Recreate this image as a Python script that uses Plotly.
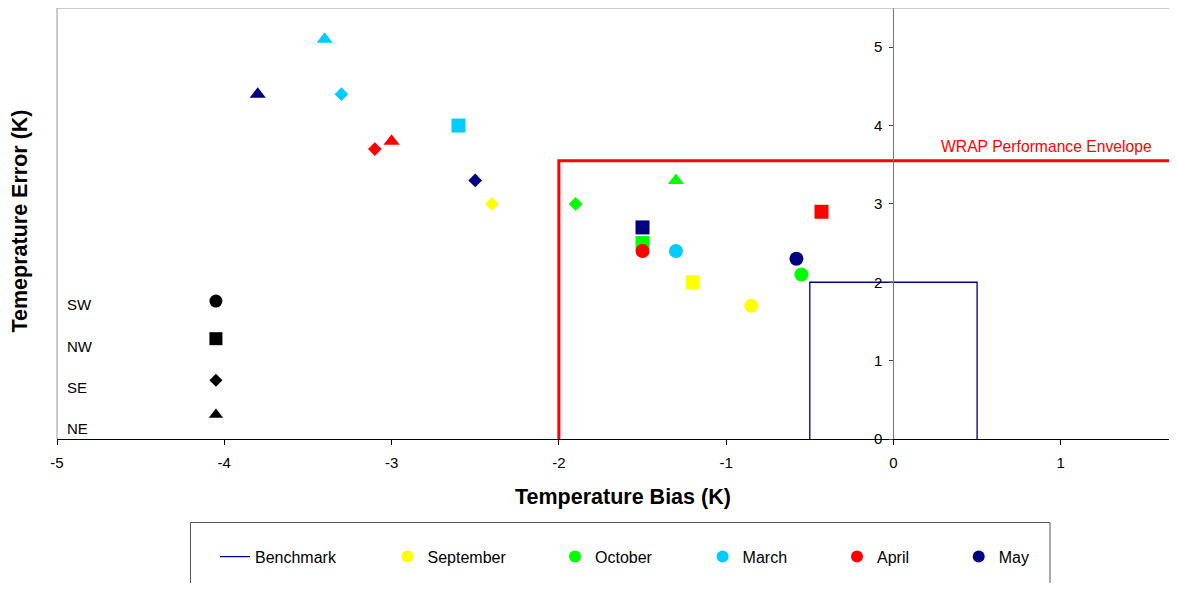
import plotly.graph_objects as go

# ---------------- data ----------------
months = ["September", "October", "March", "April", "May"]
month_colors = ["#FFFF00", "#00FF00", "#00CCFF", "#FF0000", "#000080"]
regions = ["SW", "NW", "SE", "NE"]
region_symbols = ["circle", "square", "diamond", "triangle-up"]

sep_bias = [-0.85, -1.20, -2.40, None]
sep_error = [1.70, 2.00, 3.00, None]
oct_bias = [-0.55, -1.50, -1.90, -1.30]
oct_error = [2.10, 2.50, 3.00, 3.30]
mar_bias = [-1.30, -2.60, -3.30, -3.40]
mar_error = [2.40, 4.00, 4.40, 5.10]
apr_bias = [-1.50, -0.43, -3.10, -3.00]
apr_error = [2.40, 2.90, 3.70, 3.80]
may_bias = [-0.58, -1.50, -2.50, -3.80]
may_error = [2.30, 2.70, 3.30, 4.40]

key_bias = [-4.05, -4.05, -4.05, -4.05]
key_error = [1.76, 1.28, 0.75, 0.31]

bench_bias = [-0.5, -0.5, 0.5, 0.5]
bench_error = [0.0, 2.0, 2.0, 0.0]

env_bias = [-2.0, -2.0, 2.5]
env_error = [0.0, 3.55, 3.55]
env_label = "WRAP Performance Envelope"

x_ticks = [-5, -4, -3, -2, -1, 0, 1]
y_ticks = [0, 1, 2, 3, 4, 5]

# ---------------- layout constants ----------------
OFF = 8  # page body margin
W, H = 1177 - OFF, 591 - 2 * OFF
ML, MR, MT, MB = 49, 0, 0, 144
XR = [-5, 1.695]
YR = [0, 5.5]
FONT = "Liberation Sans, Arial, sans-serif"
plot_w = W - ML - MR
plot_h = H - MT - MB


def px_x(p):
    return (p - OFF - ML) / plot_w


def px_y(p):
    return (OFF + H - MB - p) / plot_h


series = [
    (sep_bias, sep_error),
    (oct_bias, oct_error),
    (mar_bias, mar_error),
    (apr_bias, apr_error),
    (may_bias, may_error),
]
marker_sizes = {"circle": 14, "square": 14, "diamond": 10.5, "triangle-up": 14}
key_sizes = {"circle": 13, "square": 13, "diamond": 10, "triangle-up": 12.5}

fig = go.Figure()

# WRAP envelope
fig.add_trace(go.Scatter(x=env_bias, y=env_error, mode="lines",
                         line=dict(color="#FF0000", width=3),
                         showlegend=False, hoverinfo="skip"))

# Benchmark box
fig.add_trace(go.Scatter(x=bench_bias, y=bench_error, mode="lines",
                         name="Benchmark", legend="legend",
                         line=dict(color="#000080", width=1.3)))

legend_ids = ["legend2", "legend3", "legend4", "legend5", "legend6"]
for (bx, ey), name, col, lid in zip(series, months, month_colors, legend_ids):
    fig.add_trace(go.Scatter(
        x=bx, y=ey, mode="markers", name=name, legend=lid,
        marker=dict(color=col, symbol=region_symbols, opacity=1,
                    size=[marker_sizes[s] for s in region_symbols],
                    line=dict(width=0)),
        text=regions,
    ))

# Region key markers
fig.add_trace(go.Scatter(
    x=key_bias, y=key_error, mode="markers", showlegend=False,
    marker=dict(color="#000000", symbol=region_symbols, opacity=1,
                size=[key_sizes[s] for s in region_symbols], line=dict(width=0)),
    text=regions, hoverinfo="text"))

annotations = []
# region key labels
label_y_px = [304, 346.7, 387.7, 428.3]
for lab, yp in zip(regions, label_y_px):
    annotations.append(dict(text=lab, xref="paper", yref="paper",
                            x=px_x(65), y=px_y(yp), xanchor="left", yanchor="middle",
                            showarrow=False, font=dict(family=FONT, size=15, color="#000000")))
# envelope label
annotations.append(dict(text=env_label, xref="paper", yref="paper",
                        x=px_x(939), y=px_y(146), xanchor="left", yanchor="middle",
                        showarrow=False, font=dict(family=FONT, size=15.7, color="#FF0000")))
# axis titles
annotations.append(dict(text="<b>Temperature Bias (K)</b>", xref="paper", yref="paper",
                        x=px_x(622.5), y=px_y(497), xanchor="center", yanchor="middle",
                        showarrow=False, font=dict(family=FONT, size=21.5, color="#000000")))
annotations.append(dict(text="<b>Temeprature Error (K)</b>", xref="paper", yref="paper",
                        x=px_x(19), y=px_y(221.5), xanchor="center", yanchor="middle",
                        textangle=-90, showarrow=False,
                        font=dict(family=FONT, size=21.5, color="#000000")))

shapes = [
    # plot-area border (left, top)
    dict(type="line", xref="paper", yref="paper", x0=0, x1=0, y0=0, y1=1,
         line=dict(color="#999999", width=1)),
    dict(type="line", xref="paper", yref="paper", x0=0, x1=1, y0=1, y1=1,
         line=dict(color="#999999", width=1)),
    # legend frame
    dict(type="rect", xref="paper", yref="paper",
         x0=px_x(190.5), x1=px_x(1050), y0=px_y(620), y1=px_y(522.5),
         line=dict(color="#555555", width=1), fillcolor="rgba(0,0,0,0)"),
]

legend_text_px = [255, 427.5, 595, 742.6, 877, 998.7]
legend_common = dict(font=dict(family=FONT, size=16, color="#000000"),
                     bgcolor="rgba(0,0,0,0)", borderwidth=0, xanchor="left",
                     yanchor="middle", y=px_y(556.7), orientation="h")
legends = {}
for i, lid in enumerate(["legend"] + legend_ids):
    legends[lid] = dict(x=px_x(legend_text_px[i] - 40),
                        itemsizing="trace" if i == 0 else "constant",
                        **legend_common)

fig.update_layout(
    width=W, height=H,
    margin=dict(l=ML, r=MR, t=MT, b=MB, autoexpand=False),
    paper_bgcolor="white", plot_bgcolor="white",
    font=dict(family=FONT, size=15, color="#000000"),
    xaxis=dict(range=XR, tickvals=x_ticks, ticktext=[str(v) for v in x_ticks],
               showgrid=False, zeroline=False, showline=True, linecolor="#000000",
               linewidth=1, ticks="outside", ticklen=5, tickcolor="#000000",
               tickfont=dict(family=FONT, size=15, color="#000000"),
               ticklabelstandoff=5, anchor="y"),
    yaxis=dict(range=YR, tickvals=y_ticks, showgrid=False, zeroline=False,
               showline=True, linecolor="#777777", linewidth=1,
               ticks="outside", ticklen=4, tickcolor="#444444",
               tickfont=dict(family=FONT, size=15, color="#000000"),
               anchor="free", position=5 / (XR[1] - XR[0]), side="left",
               ticklabelstandoff=4),
    annotations=annotations,
    shapes=shapes,
    showlegend=True,
    **legends,
)

fig.write_html("out.html")
